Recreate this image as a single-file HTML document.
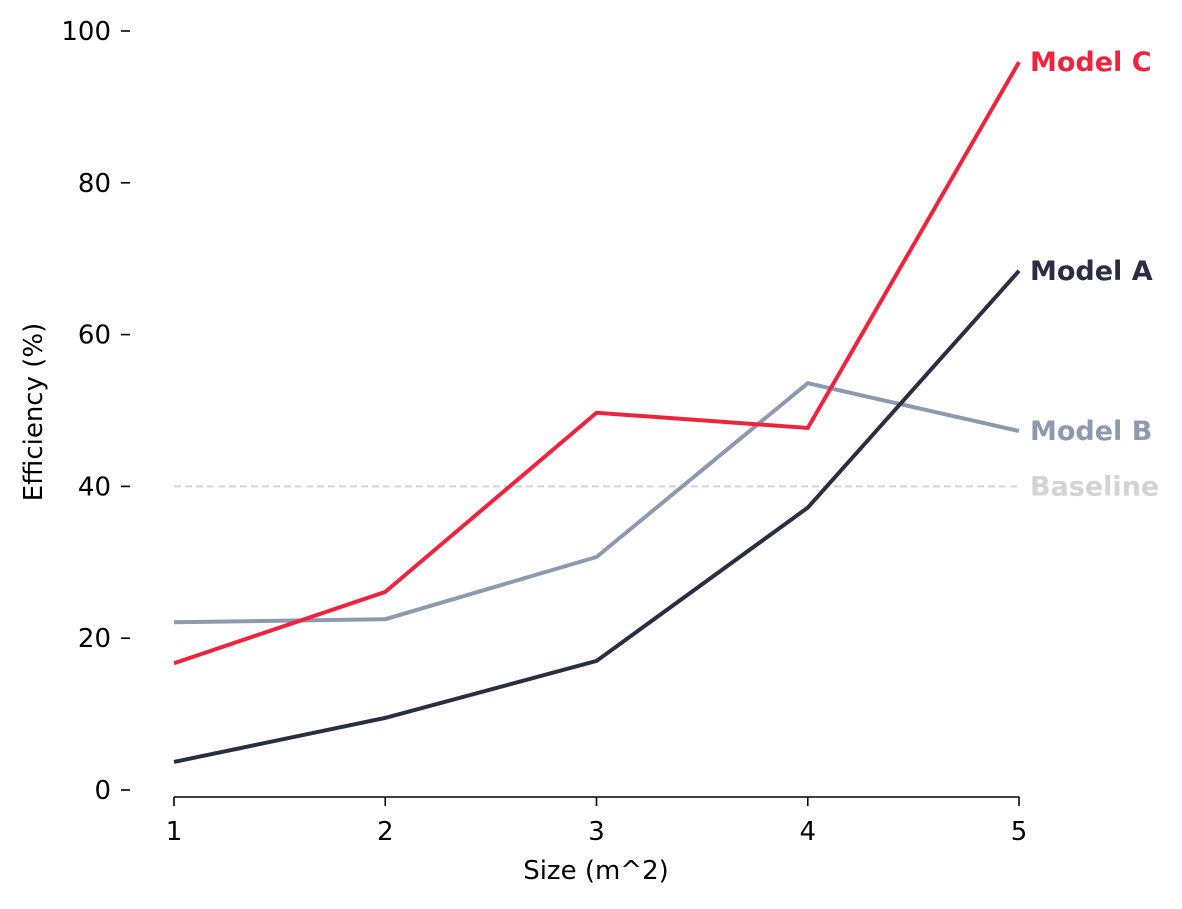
<!DOCTYPE html>
<html><head><meta charset="utf-8"><style>
body{margin:0;background:#fff}
svg text{font-family:"DejaVu Sans","Liberation Sans",sans-serif}
</style></head><body>
<svg id="chart" width="1182" height="904" xmlns="http://www.w3.org/2000/svg">
<g id="axes"></g><g id="series"></g><g id="labels"></g>
</svg>
<script>
const xCats=[1,2,3,4,5];
const modelA=[3.7,9.5,17.0,37.2,68.4];
const modelB=[22.1,22.5,30.7,53.6,47.3];
const modelC=[16.7,26.1,49.7,47.7,95.9];
const baseline=40;
const yTicks=[0,20,40,60,80,100];
const xTicks=[1,2,3,4,5];
const NS="http://www.w3.org/2000/svg";
const xs=v=>174+(v-1)*211.25;
const ys=v=>790-v*7.59;
function mk(tag,attrs,parent){const e=document.createElementNS(NS,tag);for(const k in attrs)e.setAttribute(k,attrs[k]);parent.appendChild(e);return e;}
const axes=document.getElementById('axes'),series=document.getElementById('series'),labels=document.getElementById('labels');
let sp=mk('line',{x1:174,x2:1019,y1:797,y2:797,stroke:'#000','stroke-width':1.6},axes);


yTicks.forEach(t=>{
 let l=mk('line',{x1:121,x2:130,y1:ys(t),y2:ys(t),stroke:'#000','stroke-width':1.6},axes);
 
 
 let tx=mk('text',{x:111,y:ys(t)+9,'text-anchor':'end','font-size':26},axes);tx.textContent=t;
 
 
});
xTicks.forEach(t=>{
 let l=mk('line',{x1:xs(t),x2:xs(t),y1:797,y2:806,stroke:'#000','stroke-width':1.6},axes);
 
 
 let tx=mk('text',{x:xs(t),y:840,'text-anchor':'middle','font-size':26},axes);tx.textContent=t;
 
 
});
let xl=mk('text',{x:596,y:879,'text-anchor':'middle','font-size':26},axes);xl.textContent='Size (m^2)';


let yl=mk('text',{x:42,y:412,'text-anchor':'middle','font-size':26,transform:'rotate(-90 42 412)'},axes);yl.textContent='Efficiency (%)';


let bl=mk('line',{x1:xs(1),x2:xs(5),y1:ys(baseline),y2:ys(baseline),stroke:'#d3d3d3','stroke-width':2,'stroke-dasharray':'7,4'},series);


let bt=mk('text',{x:1030,y:ys(baseline)+9,'font-size':27,'font-weight':'bold',fill:'#d3d3d3'},labels);bt.textContent='Baseline';


[[modelB,'#8d99ae','Model B','model-b'],[modelA,'#2b2d42','Model A','model-a'],[modelC,'#ef233c','Model C','model-c']].forEach(([d,c,n,id])=>{
 let p=mk('polyline',{points:d.map((v,i)=>xs(xCats[i])+','+ys(v)).join(' '),fill:'none',stroke:c,'stroke-width':4},series);
 
 
 let t=mk('text',{x:1030,y:ys(d[d.length-1])+9,'font-size':27,'font-weight':'bold',fill:c},labels);t.textContent=n;
 
 
});
</script>
</body></html>
